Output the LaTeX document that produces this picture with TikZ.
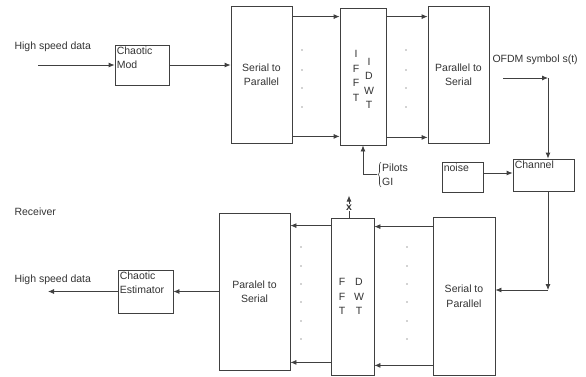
\documentclass[tikz,border=0pt]{standalone}
\usepackage{fontspec}
\setmainfont{Liberation Sans}
\usetikzlibrary{arrows.meta,decorations.pathreplacing}
\begin{document}
\begin{tikzpicture}[x=1pt,y=-1pt,
  every node/.style={font=\fontsize{10.5}{14.5}\selectfont,text=black!80},
  blk/.style={draw=black!75,line width=0.8pt,inner sep=0pt,align=center},
  tl/.style={anchor=north west,align=left,inner sep=2pt},
  col/.style={align=center,inner sep=0pt},
  arr/.style={draw=black!75,line width=0.8pt,-{Latex[length=6pt,width=5pt]}},
  dot/.style={fill=black!75}]
\useasboundingbox (0,0) rectangle (586,376);
% transmitter
\node[anchor=west] (hsin) at (11,47) {High speed data};
\coordinate (src) at (38,65);
\node[blk,minimum width=54pt,minimum height=40pt,label={[tl]north west:Chaotic\\Mod}] (mod) at (142,65) {};
\node[blk,minimum width=61pt,minimum height=137pt] (s2p) at (261.5,74.5) {Serial to\\Parallel};
\node[blk,minimum width=46pt,minimum height=137pt,
  label={[col,xshift=-7pt,yshift=0.5pt]center:I\\F\\F\\T},
  label={[col,xshift=6pt,yshift=-7pt]center:I\\D\\W\\T}] (ifft) at (363,76.5) {};
\node[blk,minimum width=61pt,minimum height=137pt] (p2s) at (458.5,74.5) {Parallel to\\Serial};
\node[anchor=west] (ofdm) at (489,60) {OFDM symbol s(t)};
\node[anchor=west,align=left,inner sep=1pt] (pg) at (381,174.5) {Pilots\\GI};
\node[blk,minimum width=41pt,minimum height=30pt,label={[tl]north west:noise}] (noise) at (462.5,177) {};
\node[blk,minimum width=61pt,minimum height=32pt,label={[tl]north west:Channel}] (chan) at (543.5,175) {};
\coordinate (o1) at (503,78);
\coordinate (o2) at (548,78);
\coordinate (c3) at (548,290);
\draw[arr] (src) -- (mod.west);
\draw[arr] (mod.east) -- (mod.east -| s2p.west);
\draw[arr] ([yshift=-11pt]s2p.north east) -- ([yshift=-11pt]s2p.north east -| ifft.west);
\draw[arr] ([yshift=7pt]s2p.south east) -- ([yshift=7pt]s2p.south east -| ifft.west);
\draw[arr] ([yshift=-9pt]ifft.north east) -- ([yshift=-9pt]ifft.north east -| p2s.west);
\draw[arr] ([yshift=8pt]ifft.south east) -- ([yshift=8pt]ifft.south east -| p2s.west);
\foreach \y in {50,70,88,107} {
  \fill[dot] (302,\y) circle (0.7pt);
  \fill[dot] (406,\y) circle (0.7pt);
}
\draw[draw=black!75,line width=0.6pt,decorate,decoration={brace,amplitude=3pt}] (pg.south west) -- (pg.north west);
\draw[arr] ([xshift=-4pt]pg.west) -| (ifft.south);
\draw[arr] (o1) -- (o2);
\draw[arr] (o2) -- (o2 |- chan.north);
\draw[arr] ([yshift=4pt]noise.east) -- ([yshift=4pt]noise.east -| chan.west);
\draw[arr] (o2 |- chan.south) -- (c3);
% receiver
\node[anchor=west] (rx) at (11,212) {Receiver};
\node[blk,minimum width=62pt,minimum height=158pt] (bs2p) at (464,296) {Serial to\\Parallel};
\node[blk,minimum width=43pt,minimum height=157pt,
  label={[col,xshift=-10.5pt]center:F\\F\\T},
  label={[col,xshift=6.5pt]center:D\\W\\T}] (fft) at (352.5,296.5) {};
\node[blk,minimum width=71pt,minimum height=157pt] (bp2s) at (254.5,291.5) {Paralel to\\Serial};
\node[blk,minimum width=55pt,minimum height=43pt,label={[tl]north west:Chaotic\\Estimator}] (est) at (145.5,291.5) {};
\node[anchor=west] (hsout) at (11,280) {High speed data};
\coordinate (dst) at (48,291.5);
\draw[arr] (c3) -- (c3 -| bs2p.east);
\draw[arr] ([yshift=-10pt]bs2p.north west) -- ([yshift=-10pt]bs2p.north west -| fft.east);
\draw[arr] ([yshift=10pt]bs2p.south west) -- ([yshift=10pt]bs2p.south west -| fft.east);
\draw[arr] ([yshift=-8pt]fft.north west) -- ([yshift=-8pt]fft.north west -| bp2s.east);
\draw[arr] ([yshift=13pt]fft.south west) -- ([yshift=13pt]fft.south west -| bp2s.east);
\foreach \y in {247,266,284,302,321,339} {
  \fill[dot] (301,\y) circle (0.7pt);
  \fill[dot] (407,\y) circle (0.7pt);
}
\draw[arr] ([xshift=-3.5pt]fft.north) -- ++(0,-22) node[pos=0.45,fill=white,inner sep=0.5pt,font=\bfseries\fontsize{10.5}{12}\selectfont] (xo) {x};
\draw[arr] (bp2s.west) -- (est.east);
\draw[arr] (est.west) -- (dst);
\end{tikzpicture}
\end{document}
